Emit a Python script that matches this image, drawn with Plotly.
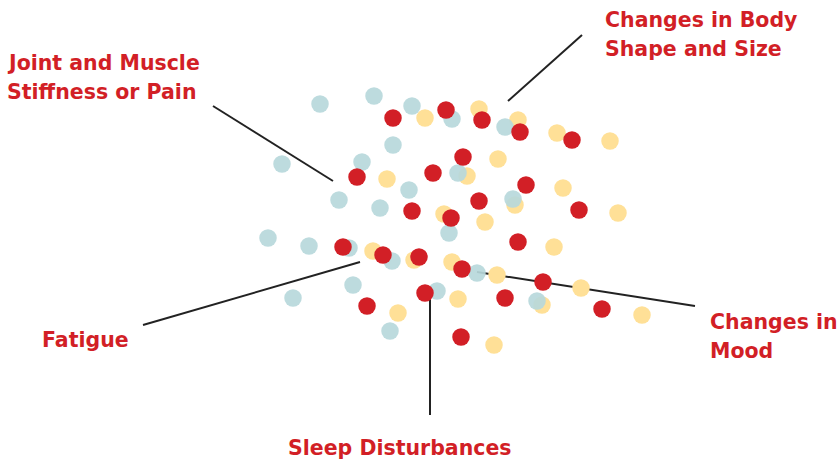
import plotly.graph_objects as go

W, H = 839, 461

# Dot positions (pixel-space coordinates)
teal_x = [320, 374, 412, 452, 282, 393, 362, 409, 339, 380, 458, 505, 513, 449,
          268, 309, 349, 392, 353, 293, 437, 390, 477, 537]
teal_y = [104, 96, 106, 119, 164, 145, 162, 190, 200, 208, 173, 127, 199, 233,
          238, 246, 248, 261, 285, 298, 291, 331, 273, 301]

red_x = [446, 393, 482, 520, 572, 463, 357, 433, 526, 479, 412, 451, 579, 518,
         343, 383, 419, 462, 543, 505, 425, 367, 602, 461]
red_y = [110, 118, 120, 132, 140, 157, 177, 173, 185, 201, 211, 218, 210, 242,
         247, 255, 257, 269, 282, 298, 293, 306, 309, 337]

yellow_x = [479, 425, 518, 557, 610, 498, 387, 467, 563, 515, 444, 485, 618, 554,
            373, 414, 452, 497, 581, 458, 542, 398, 642, 494]
yellow_y = [109, 118, 120, 133, 141, 159, 179, 176, 188, 205, 214, 222, 213, 247,
            251, 260, 262, 275, 288, 299, 305, 313, 315, 345]

# Leader lines: (x0, y0, x1, y1)
leaders = {
    "Joint": (213, 106, 333, 181),
    "Body": (582, 35, 508, 101),
    "Fatigue": (143, 325, 360, 262),
    "Sleep": (430, 292, 430, 415),
    "Mood": (477, 272, 695, 306),
}

# Labels: (text lines, x, first-line y, anchor)
labels = [
    (["Joint and Muscle", "Stiffness or Pain"], 5, 63, "left"),
    (["Changes in Body", "Shape and Size"], 603, 20, "left"),
    (["Fatigue"], 40, 340, "left"),
    (["Changes in", "Mood"], 708, 322, "left"),
    (["Sleep Disturbances"], 400, 448, "center"),
]

TEAL = "#B7D8DB"
RED = "#D21F26"
YELLOW = "#FFE097"
LINE = "#222222"

fig = go.Figure()

for name, (x0, y0, x1, y1) in leaders.items():
    fig.add_trace(go.Scatter(x=[x0, x1], y=[y0, y1], mode="lines",
                             line=dict(color=LINE, width=2), hoverinfo="skip"))

fig.add_trace(go.Scatter(x=yellow_x, y=yellow_y, mode="markers",
                         marker=dict(color=YELLOW, size=17.5, line=dict(width=0))))
fig.add_trace(go.Scatter(x=teal_x, y=teal_y, mode="markers",
                         marker=dict(color=TEAL, size=17.5, opacity=0.92, line=dict(width=0))))
fig.add_trace(go.Scatter(x=red_x, y=red_y, mode="markers",
                         marker=dict(color=RED, size=17.5, line=dict(width=0))))

for lines, x, y, anchor in labels:
    for i, t in enumerate(lines):
        fig.add_annotation(x=x, y=y + i * 28.5, text=f"<b>{t}</b>", showarrow=False,
                           xanchor=anchor, yanchor="middle", xref="x", yref="y",
                           font=dict(family="DejaVu Sans", size=20.5, color=RED))

fig.update_layout(
    width=W, height=H, margin=dict(l=0, r=0, t=0, b=0),
    paper_bgcolor="white", plot_bgcolor="white", showlegend=False,
    xaxis=dict(range=[0, W], visible=False, fixedrange=True),
    yaxis=dict(range=[H, 0], visible=False, fixedrange=True),
)

fig.write_html("out.html", config={"displayModeBar": False},
               post_script="document.body.style.margin='0';")
